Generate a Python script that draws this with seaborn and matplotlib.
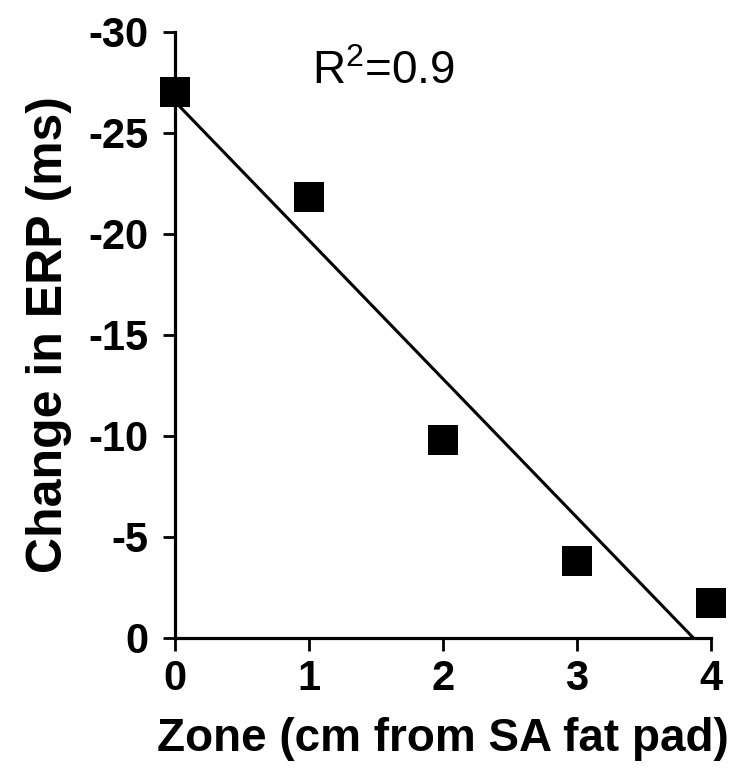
import pandas as pd
import matplotlib
matplotlib.use("Agg")
import matplotlib.pyplot as plt
import seaborn as sns

# Values
zone = [0, 1, 2, 3, 4]
erp_change = [-27.0, -21.8, -9.8, -3.8, -1.7]
x_ticks = [0, 1, 2, 3, 4]
y_ticks = [0, -5, -10, -15, -20, -25, -30]
r2_text = "R$^2$=0.9"

df = pd.DataFrame({"zone": zone, "erp": erp_change})

sns.set_style("ticks")
plt.rcParams["font.family"] = ["Liberation Sans", "DejaVu Sans"]
plt.rcParams["mathtext.fontset"] = "custom"
plt.rcParams["mathtext.rm"] = "Liberation Sans"
for key in ["text.color", "axes.labelcolor", "xtick.color", "ytick.color", "axes.edgecolor"]:
    plt.rcParams[key] = "black"

fig = plt.figure(figsize=(7.35, 7.73), dpi=100)
ax = fig.add_axes([0.238, 0.175, 0.729, 0.784])

# regression line
sns.regplot(data=df, x="zone", y="erp", ci=None, scatter=False, ax=ax,
            line_kws=dict(color="black", lw=2.2))
# data points
sns.scatterplot(data=df, x="zone", y="erp", marker="s", s=470, color="black",
                edgecolor="black", linewidth=0, ax=ax, clip_on=False, zorder=5)

ax.set_xlim(0, 4)
ax.set_ylim(0, -30)
ax.set_xticks(x_ticks)
ax.set_yticks(y_ticks)
ax.set_xticklabels([str(t) for t in x_ticks], fontweight="bold")
ax.set_yticklabels([str(t) for t in y_ticks], fontweight="bold")

for side in ["top", "right"]:
    ax.spines[side].set_visible(False)
for side in ["left", "bottom"]:
    ax.spines[side].set_linewidth(2.3)

ax.tick_params(axis="both", length=9, width=2, labelsize=30)
ax.tick_params(axis="x", pad=6)
ax.tick_params(axis="y", pad=10)

ax.set_xlabel("Zone (cm from SA fat pad)", fontsize=33, fontweight="bold", labelpad=13)
ax.set_ylabel("Change in ERP (ms)", fontsize=36, fontweight="bold", labelpad=12)

ax.text(1.56, -28.0, r2_text, fontsize=33, ha="center", va="center")

fig.savefig("out.png", dpi=100)
plt.close()
